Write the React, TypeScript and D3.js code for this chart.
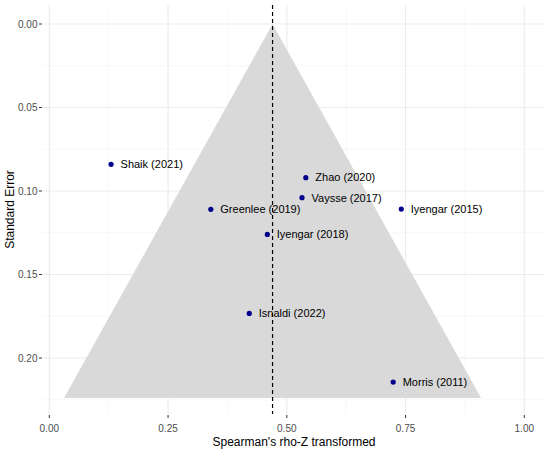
import React from "react";
import * as d3 from "d3";

// study estimates (Spearman rho, Z transformed) and their standard errors
const studies = ["Shaik (2021)", "Zhao (2020)", "Vaysse (2017)", "Greenlee (2019)", "Iyengar (2015)", "Iyengar (2018)", "Isnaldi (2022)", "Morris (2011)"];
const effects = [0.130, 0.540, 0.532, 0.340, 0.741, 0.459, 0.421, 0.724];
const stdErrors = [0.084, 0.092, 0.104, 0.111, 0.1108, 0.126, 0.1733, 0.2144];

const pooled = 0.47;
const seMax = 0.224;

const xTicks = [0, 0.25, 0.5, 0.75, 1];
const xMinor = [0.125, 0.375, 0.625, 0.875];
const yTicks = [0, 0.05, 0.1, 0.15, 0.2];
const yMinor = [0.025, 0.075, 0.125, 0.175, 0.225];

const W = 550;
const H = 451;
const panel = { left: 43, right: 545, top: 5, bottom: 414 };

const x = d3.scaleLinear().domain([0, 1]).range([49.3, 524.3]);
const y = d3.scaleLinear().domain([0, 0.2]).range([24, 358]);

const font = "'Liberation Sans', Arial, sans-serif";

const App: React.FC = () => {
  const funnel = d3.line<[number, number]>()
    .x((d) => x(d[0]))
    .y((d) => y(d[1]));
  const tri: [number, number][] = [
    [pooled, 0],
    [pooled + 1.96 * seMax, seMax],
    [pooled - 1.96 * seMax, seMax],
    [pooled, 0],
  ];

  return (
    <svg width={W} height={H} style={{ position: "absolute", left: 0, top: 0 }} fontFamily={font}>
      <rect width={W} height={H} fill="#fff" />
      {/* grid */}
      {xMinor.map((t) => (
        <line key={"xm" + t} x1={x(t)} x2={x(t)} y1={panel.top} y2={panel.bottom} stroke="#f2f2f2" strokeWidth={0.6} />
      ))}
      {yMinor.map((t) => (
        <line key={"ym" + t} x1={panel.left} x2={panel.right} y1={y(t)} y2={y(t)} stroke="#f2f2f2" strokeWidth={0.6} />
      ))}
      {xTicks.map((t) => (
        <line key={"xg" + t} x1={x(t)} x2={x(t)} y1={panel.top} y2={panel.bottom} stroke="#ebebeb" strokeWidth={1.1} />
      ))}
      {yTicks.map((t) => (
        <line key={"yg" + t} x1={panel.left} x2={panel.right} y1={y(t)} y2={y(t)} stroke="#ebebeb" strokeWidth={1.1} />
      ))}

      <path d={funnel(tri) || ""} fill="#d9d9d9" />
      <line x1={x(pooled)} x2={x(pooled)} y1={panel.top} y2={panel.bottom} stroke="#000" strokeWidth={1.2} strokeDasharray="4,3" />

      {effects.map((e, i) => (
        <g key={studies[i]}>
          <circle cx={x(e)} cy={y(stdErrors[i])} r={2.6} fill="#00008b" />
          <text x={x(e) + 9.5} y={y(stdErrors[i])} dy="0.35em" fontSize={11} fill="#000">
            {studies[i]}
          </text>
        </g>
      ))}

      {/* x axis */}
      {xTicks.map((t) => (
        <g key={"xt" + t}>
          <line x1={x(t)} x2={x(t)} y1={panel.bottom + 1} y2={panel.bottom + 4} stroke="#333" strokeWidth={1} />
          <text x={x(t)} y={428} dy="0.35em" textAnchor="middle" fontSize={10} fill="#4d4d4d">
            {d3.format(".2f")(t)}
          </text>
        </g>
      ))}
      <text x={(panel.left + panel.right) / 2} y={442} dy="0.35em" textAnchor="middle" fontSize={12} fill="#000">
        Spearman's rho-Z transformed
      </text>

      {/* y axis */}
      {yTicks.map((t) => (
        <g key={"yt" + t}>
          <line x1={panel.left - 4} x2={panel.left - 1} y1={y(t)} y2={y(t)} stroke="#333" strokeWidth={1} />
          <text x={37.5} y={y(t)} dy="0.35em" textAnchor="end" fontSize={10} fill="#4d4d4d">
            {d3.format(".2f")(t)}
          </text>
        </g>
      ))}
      <text
        transform={`translate(9.5,${(panel.top + panel.bottom) / 2}) rotate(-90)`}
        dy="0.35em"
        textAnchor="middle"
        fontSize={12}
        fill="#000"
      >
        Standard Error
      </text>
    </svg>
  );
};

export default App;
